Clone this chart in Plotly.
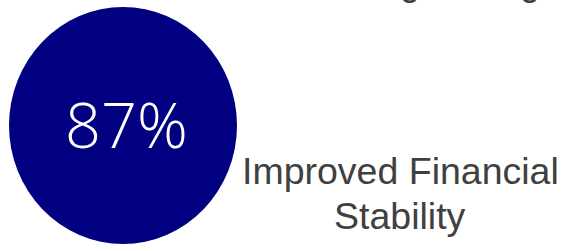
import plotly.graph_objects as go

W, H = 570, 251

# Data
stat_values = ["87%"]
stat_labels = ["Improved Financial<br>Stability"]
top_labels = ["Growing Savings"]

navy = "#000080"
text_gray = "#404040"

fig = go.Figure()

def px(x):
    return x / W

def py(y):
    return 1 - y / H

# Circle badge
fig.add_shape(type="circle", xref="paper", yref="paper",
              x0=px(9), x1=px(237), y0=py(244), y1=py(7),
              fillcolor=navy, line=dict(width=0), layer="below")

fig.add_annotation(text=stat_values[0], xref="paper", yref="paper",
                   x=px(126), y=py(123), xanchor="center", yanchor="middle",
                   showarrow=False,
                   font=dict(family="Open Sans", size=63, color="white", weight=300))

# label lines, placed one per line to control line spacing
label_lines = stat_labels[0].split("<br>")
baselines = [185, 230]
for line, base in zip(label_lines, baselines):
    fig.add_annotation(text=line, xref="paper", yref="paper",
                       x=px(400), y=py(base + 9), xanchor="center", yanchor="bottom",
                       showarrow=False,
                       font=dict(family="Liberation Sans", size=37.5, color=text_gray))

fig.add_annotation(text=top_labels[0], xref="paper", yref="paper",
                   x=px(422), y=py(5), xanchor="center", yanchor="bottom",
                   showarrow=False,
                   font=dict(family="Liberation Sans", size=36, color=text_gray))

fig.update_layout(width=W, height=H, margin=dict(l=0, r=0, t=0, b=0),
                  paper_bgcolor="white", plot_bgcolor="white",
                  xaxis=dict(visible=False), yaxis=dict(visible=False),
                  showlegend=False)

fig.write_html("out.html", config={"displayModeBar": False},
               post_script="document.body.style.margin='0';document.body.style.overflow='hidden';")
